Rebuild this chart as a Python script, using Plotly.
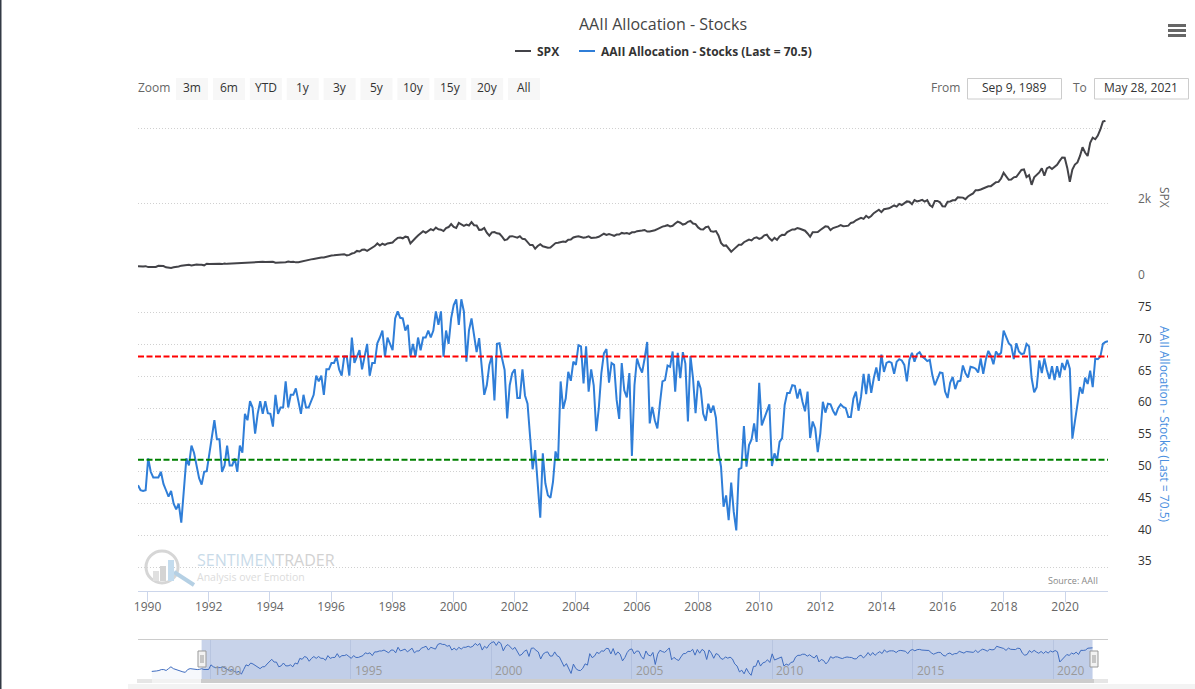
import pandas as pd
import plotly.graph_objects as go

W, H = 1195, 689

# monthly values, Sep 1989 - May 2021
spx = [349, 340, 346, 353,
       329, 332, 340, 331, 361, 358, 356, 323, 306, 304, 322, 330,
       344, 367, 375, 375, 390, 371, 388, 395, 388, 392, 375, 417,
       409, 413, 404, 415, 415, 408, 424, 414, 418, 419, 431, 436,
       439, 443, 452, 440, 450, 451, 448, 464, 459, 468, 462, 466,
       482, 467, 446, 451, 457, 444, 458, 475, 463, 472, 454, 459,
       470, 487, 501, 515, 533, 545, 562, 562, 584, 582, 605, 616,
       636, 640, 646, 654, 669, 671, 640, 652, 687, 705, 757, 741,
       786, 791, 757, 801, 848, 885, 954, 899, 947, 915, 955, 970,
       980, 1049, 1102, 1112, 1091, 1134, 1121, 957, 1017, 1099, 1164, 1229,
       1280, 1238, 1286, 1335, 1302, 1373, 1329, 1320, 1283, 1363, 1389, 1469,
       1394, 1366, 1499, 1452, 1421, 1455, 1431, 1518, 1437, 1429, 1315, 1320,
       1366, 1240, 1160, 1249, 1256, 1224, 1211, 1134, 1041, 1060, 1139, 1148,
       1130, 1107, 1147, 1077, 1067, 990, 912, 916, 815, 886, 936, 880,
       856, 841, 849, 917, 964, 975, 990, 1008, 996, 1051, 1058, 1112,
       1131, 1145, 1126, 1107, 1121, 1141, 1102, 1104, 1115, 1130, 1174, 1212,
       1181, 1204, 1181, 1157, 1192, 1191, 1234, 1220, 1229, 1207, 1249, 1248,
       1280, 1281, 1295, 1311, 1270, 1270, 1277, 1304, 1336, 1378, 1401, 1418,
       1438, 1407, 1421, 1482, 1531, 1503, 1455, 1474, 1527, 1549, 1481, 1468,
       1379, 1331, 1323, 1386, 1400, 1280, 1267, 1283, 1166, 969, 896, 903,
       826, 735, 798, 873, 919, 919, 987, 1021, 1057, 1036, 1096, 1115,
       1074, 1104, 1169, 1187, 1089, 1031, 1102, 1049, 1141, 1183, 1181, 1258,
       1286, 1327, 1326, 1364, 1345, 1321, 1292, 1219, 1131, 1253, 1247, 1258,
       1312, 1366, 1408, 1398, 1310, 1362, 1379, 1407, 1441, 1412, 1416, 1426,
       1498, 1515, 1569, 1598, 1631, 1606, 1686, 1633, 1682, 1757, 1806, 1848,
       1783, 1859, 1872, 1884, 1924, 1960, 1931, 2003, 1972, 2018, 2068, 2059,
       1995, 2105, 2068, 2086, 2107, 2063, 2104, 1972, 1920, 2079, 2080, 2044,
       1940, 1932, 2060, 2065, 2097, 2099, 2174, 2171, 2168, 2126, 2199, 2239,
       2279, 2364, 2363, 2384, 2412, 2423, 2470, 2472, 2519, 2575, 2585, 2674,
       2824, 2714, 2641, 2648, 2705, 2718, 2816, 2902, 2914, 2712, 2760, 2507,
       2704, 2784, 2834, 2946, 2752, 2942, 2980, 2926, 2977, 3038, 3141, 3231,
       3226, 2954, 2585, 2912, 3044, 3100, 3271, 3500, 3363, 3270, 3622, 3756,
       3714, 3811, 3973, 4181, 4204]

aaii = [47.9, 47.1, 47.0, 47.1, 52.1, 50.0, 49.1, 49.1, 49.1, 50.0, 48.1, 47.1, 46.1, 47.0, 45.0,
        44.1, 45.0, 42.0, 47.1, 52.1, 51.0, 54.1, 53.0, 51.0, 49.0, 48.0, 50.0, 50.1, 53.0, 56.0,
        58.1, 55.1, 55.1, 50.0, 51.0, 54.1, 51.0, 51.0, 52.1, 50.0, 54.1, 53.0, 59.1, 58.1, 61.1,
        60.1, 56.0, 59.1, 61.1, 59.1, 61.1, 59.2, 59.1, 57.1, 62.1, 59.1, 60.1, 60.1, 64.2, 60.1,
        62.1, 62.1, 63.1, 61.1, 59.1, 62.1, 60.1, 60.1, 61.1, 62.1, 65.1, 64.2, 65.1, 62.1, 66.1,
        66.1, 67.1, 67.1, 68.1, 66.1, 65.1, 68.1, 68.1, 65.1, 71.1, 67.1, 68.1, 69.1, 66.1, 68.1,
        70.1, 65.1, 67.1, 67.1, 70.2, 71.1, 72.2, 68.1, 71.1, 70.1, 69.1, 74.1, 75.2, 74.2, 74.1,
        72.2, 73.1, 68.1, 70.1, 68.1, 71.1, 69.1, 71.1, 71.1, 72.2, 71.1, 72.2, 75.2, 73.1, 75.2,
        68.1, 72.2, 70.1, 74.1, 76.2, 77.1, 73.1, 77.1, 75.2, 67.3, 72.2, 74.1, 71.1, 68.8, 71.0,
        67.0, 62.1, 63.6, 66.8, 68.2, 61.2, 70.1, 70.2, 67.8, 66.0, 58.4, 63.6, 65.5, 66.1, 61.6,
        61.6, 66.1, 62.0, 60.7, 55.5, 50.4, 53.4, 48.4, 42.8, 52.9, 48.2, 46.3, 45.9, 48.4, 53.2,
        51.8, 64.2, 59.9, 61.5, 65.7, 64.3, 67.3, 66.8, 69.9, 69.7, 63.9, 69.7, 62.6, 66.1, 63.6,
        56.4, 60.0, 65.5, 68.6, 69.3, 64.0, 67.1, 66.8, 61.3, 58.3, 67.1, 62.8, 61.7, 65.5, 52.5,
        63.6, 67.8, 66.5, 65.6, 67.8, 70.4, 57.6, 60.2, 58.1, 56.8, 60.7, 64.2, 64.4, 66.7, 66.5,
        68.9, 62.6, 68.7, 64.7, 68.8, 67.0, 57.9, 68.2, 64.7, 59.2, 64.3, 63.1, 59.1, 58.0, 60.7,
        59.3, 60.4, 58.5, 53.1, 50.8, 44.5, 46.3, 42.4, 48.3, 43.7, 40.8, 50.4, 50.6, 57.2, 50.8,
        54.2, 55.1, 57.6, 54.7, 64.0, 57.3, 58.4, 59.2, 60.6, 50.9, 52.9, 51.7, 54.7, 55.3, 60.5,
        62.4, 62.4, 63.6, 63.5, 61.5, 63.0, 61.0, 59.5, 62.6, 55.3, 57.9, 56.8, 53.1, 56.0, 61.0,
        59.3, 60.7, 60.6, 59.6, 58.9, 60.0, 60.6, 60.2, 60.0, 58.6, 58.6, 61.5, 62.6, 59.6, 61.8,
        65.4, 62.2, 65.4, 62.4, 64.7, 66.4, 64.3, 68.4, 65.7, 67.1, 67.3, 67.1, 65.4, 67.3, 67.7,
        67.5, 66.8, 64.2, 67.6, 68.7, 67.3, 68.5, 68.8, 68.1, 67.8, 67.4, 67.6, 65.2, 63.6, 64.7,
        65.6, 65.5, 62.6, 61.6, 64.0, 64.9, 63.0, 64.2, 64.3, 66.7, 65.5, 64.8, 66.5, 66.4, 66.2,
        65.6, 67.8, 65.4, 67.6, 69.0, 68.2, 66.9, 68.9, 68.3, 68.7, 72.2, 71.3, 70.2, 69.8, 67.7,
        70.2, 68.9, 68.5, 68.6, 70.1, 69.7, 64.7, 62.5, 63.3, 67.5, 65.5, 67.8, 66.0, 64.6, 66.6,
        64.4, 66.6, 64.8, 67.1, 66.0, 67.6, 66.2, 55.2, 57.9, 61.3, 63.3, 62.3, 64.8, 63.8, 65.9,
        63.3, 67.8, 67.7, 68.1, 70.1, 70.4, 70.5]

# navigator also shows the months before the selected window
aaii_early = [45, 45, 45.5, 46, 47, 47, 46, 48, 50, 48, 47, 46.5, 45.5, 44.5, 44, 47, 48, 47.5, 47, 47, 47.3]

upper_band = 68.1
lower_band = 51.9

start_date = "1989-09-09"
end_date = "2021-05-28"
tick_years = list(range(1990, 2021, 2))
nav_years = [1990, 1995, 2000, 2005, 2010, 2015, 2020]
spx_ticks = [0, 2000, 4000]
spx_tick_labels = ["0", "2k", ""]
aaii_ticks = [35, 40, 45, 50, 55, 60, 65, 70, 75, 80]
aaii_tick_labels = ["35", "40", "45", "50", "55", "60", "65", "70", "75", ""]
zoom_buttons = ["3m", "6m", "YTD", "1y", "3y", "5y", "10y", "15y", "20y", "All"]
spx_name = "SPX"
aaii_name = "AAII Allocation - Stocks (Last = 70.5)"

FONT = "Open Sans"
BLUE = "#2f7ed8"
DARK = "#434348"
GRID = "#d0d0d0"
AXIS = "#ccd6eb"

dates = pd.date_range(start_date, end_date, periods=len(aaii))
early_dates = pd.date_range("1987-12-01", "1989-08-15", periods=len(aaii_early))


def px(x):
    return x / W


def py(y):
    return 1 - y / H


def rect(x0, y0, x1, y1, fill, line=None, **kw):
    return dict(type="rect", xref="paper", yref="paper", x0=px(x0), x1=px(x1), y0=py(y0), y1=py(y1),
                fillcolor=fill, line=dict(color=line or fill, width=1 if line else 0), **kw)


def label(x, y, text, size=12, color="#333333", anchor="center", weight="normal", **kw):
    return dict(xref="paper", yref="paper", x=px(x), y=py(y), text=text, showarrow=False, xanchor=anchor,
                yanchor="middle", font=dict(family=FONT, size=size, color=color, weight=weight), **kw)


fig = go.Figure()

fig.add_trace(go.Scatter(x=dates, y=spx, name=spx_name, mode="lines", xaxis="x", yaxis="y",
                         line=dict(color=DARK, width=2)))
fig.add_trace(go.Scatter(x=dates, y=aaii, name=aaii_name, mode="lines",
                         xaxis="x2", yaxis="y2", line=dict(color=BLUE, width=2)))
fig.add_trace(go.Scatter(x=list(early_dates) + list(dates), y=aaii_early + aaii, mode="lines",
                         xaxis="x3", yaxis="y3", line=dict(color="#3f6cbf", width=1),
                         fill="tozeroy", fillcolor="rgba(70,110,190,0.05)"))

shapes = []
annotations = []

# threshold lines
for val, col in [(upper_band, "#ff0000"), (lower_band, "#008000")]:
    shapes.append(dict(type="line", xref="paper", x0=px(138), x1=px(1108), yref="y2", y0=val, y1=val,
                       line=dict(color=col, width=2, dash="6px,2.5px")))

# legend: plotly's own keys are fixed at 30px, these are 16px
for lx, col, name in [(515, DARK, spx_name), (579, BLUE, aaii_name)]:
    shapes.append(dict(type="line", xref="paper", yref="paper", x0=px(lx), x1=px(lx + 16), y0=py(51), y1=py(51),
                       line=dict(color=col, width=2)))
    annotations.append(label(lx + 20, 51, name, anchor="left", weight="bold"))

# navigator
shapes.append(dict(type="rect", xref="x3", yref="paper", x0=start_date, x1=end_date, y0=py(679), y1=py(639.5),
                   fillcolor="#c8d3ea", line=dict(width=0), layer="below"))
shapes.append(dict(type="line", xref="paper", yref="paper", x0=px(138), x1=px(1108), y0=py(639.5), y1=py(639.5),
                   line=dict(color="#cccccc", width=1)))
shapes.append(rect(152, 679, 201, 683, "#f2f2f2"))
shapes.append(rect(201, 679, 1094, 683, "#cdcdcd"))
shapes.append(rect(137, 679, 152, 683, "#e6e6e6"))
shapes.append(rect(1094, 679, 1108, 683, "#e6e6e6"))
shapes.append(rect(128, 684, 1195, 689, "#f3f3f3"))
for hx in [198, 1090]:
    shapes.append(rect(hx, 651, hx + 8, 667, "#f2f2f2", line="#999999"))
    for off in [3, 5]:
        shapes.append(dict(type="line", xref="paper", yref="paper", x0=px(hx + off), x1=px(hx + off),
                           y0=py(655), y1=py(663), line=dict(color="#999999", width=1)))

# page sliver at the left edge
shapes.append(rect(0, 0, 1.5, 689, "#333a45"))

# menu icon
for my in [25.5, 30.5, 35.5]:
    shapes.append(rect(1168, my - 1.5, 1186, my + 1.5, "#666666"))

# zoom buttons, date inputs
for i, name in enumerate(zoom_buttons):
    bx = 176 + 36.9 * i
    shapes.append(rect(bx, 78, bx + 32, 100, "#f7f7f7"))
    annotations.append(label(bx + 16, 88, name))
annotations.append(label(154, 88, "Zoom", color="#666666"))
annotations.append(label(945, 87, "From", color="#666666"))
annotations.append(label(1080, 87, "To", color="#666666"))
shapes.append(rect(967.5, 78.5, 1061.5, 99, "#ffffff", line="#cccccc"))
shapes.append(rect(1094.5, 78.5, 1188.5, 99, "#ffffff", line="#cccccc"))
annotations.append(label(1014, 87, "Sep 9, 1989"))
annotations.append(label(1141, 87, "May 28, 2021"))

# watermark
shapes.append(dict(type="circle", xref="paper", yref="paper", x0=px(146), x1=px(178), y0=py(583), y1=py(551),
                   line=dict(color="#d6d6d6", width=3)))
shapes.append(dict(type="line", xref="paper", yref="paper", x0=px(174), x1=px(194), y0=py(572), y1=py(585),
                   line=dict(color="#b5d0e4", width=4)))
for bx, top, col in [(153, 571, "#e0e0e0"), (160, 566, "#d4d4d4"), (168, 560, "#c4dcee")]:
    shapes.append(rect(bx, top, bx + 6, 581, col))
annotations.append(label(195, 560, "<span style=\"color:#c9dbe9\">SENTIMEN</span>"
                                   "<span style=\"color:#d2d2d2\">TRADER</span>",
                         size=16, anchor="left"))
annotations.append(label(195, 577, "Analysis over Emotion", size=10.5, color="#dcdcdc", anchor="left"))
annotations.append(label(1100, 580, "Source: AAII", size=9, color="#888888", anchor="right"))

# axis titles and the link cut off at the top of the page
annotations.append(label(1164, 197, spx_name, size=12, color="#666666", textangle=90))
annotations.append(label(1165, 424, aaii_name, size=12, color="#4a8fe0", textangle=90))
annotations.append(label(1059, -5, "How to use our charts", size=13, color="#4a90e2", anchor="left"))

# navigator year labels
for yr in nav_years:
    annotations.append(dict(xref="x3", yref="paper", x=f"{yr}-01-01", y=py(670), text=str(yr), showarrow=False,
                            xanchor="left", xshift=2, yanchor="middle",
                            font=dict(family=FONT, size=12, color="#999999")))

fig.update_layout(
    width=W, height=H,
    margin=dict(l=0, r=0, t=0, b=0, autoexpand=False),
    paper_bgcolor="white", plot_bgcolor="white",
    font=dict(family=FONT, size=12, color="#666666"),
    showlegend=False,
    title=dict(text="AAII Allocation - Stocks", x=px(663), xanchor="center", y=py(24.5), yanchor="middle",
               font=dict(family=FONT, size=16, color="#444444")),
    shapes=shapes,
    annotations=annotations,
    xaxis=dict(domain=[px(138), px(1108)], anchor="y", range=[start_date, end_date], showticklabels=False,
               showgrid=False, zeroline=False, showline=False, ticks=""),
    xaxis2=dict(domain=[px(138), px(1108)], anchor="y2", range=[start_date, end_date], showgrid=False,
                zeroline=False, showline=True, linecolor=AXIS, linewidth=1, ticks="outside", ticklen=10,
                tickcolor=AXIS, tickwidth=1, tickmode="array", ticklabelstandoff=-5,
                tickvals=[f"{y}-01-01" for y in tick_years], ticktext=[str(y) for y in tick_years],
                tickangle=0, tickfont=dict(family=FONT, size=12, color="#666666")),
    xaxis3=dict(domain=[px(138), px(1108)], anchor="y3", range=["1987-06-05", "2021-12-15"], showticklabels=False,
                ticks="", zeroline=False, showline=False, showgrid=True, gridcolor="#b8c5e0", gridwidth=1,
                tickmode="array", tickvals=[f"{y}-01-01" for y in nav_years]),
    yaxis=dict(domain=[py(280), py(120)], anchor="x", side="right", range=[-13, 4223], tickmode="array",
               tickvals=spx_ticks, ticktext=spx_tick_labels, showgrid=True, gridcolor=GRID, griddash="1px,2px",
               zeroline=False, ticks="", ticklabelstandoff=29, ticklabelshift=-5,
               tickfont=dict(family=FONT, size=12, color="#666666")),
    yaxis2=dict(domain=[py(591), py(281)], anchor="x2", side="right", range=[31.27, 79.98], tickmode="array",
                tickvals=aaii_ticks, ticktext=aaii_tick_labels, showgrid=True, gridcolor=GRID, griddash="1px,2px",
                zeroline=False, ticks="", ticklabelstandoff=29, ticklabelshift=-6,
                tickfont=dict(family=FONT, size=12, color="#333333")),
    yaxis3=dict(domain=[py(679), py(639.5)], anchor="x3", range=[36.8, 79.5], showgrid=False, zeroline=False,
                showticklabels=False, ticks=""),
)

# the page's default body margin would push everything 8px off
fig.write_html("out.html", config={"displayModeBar": False},
               post_script="document.body.style.margin='0';")
